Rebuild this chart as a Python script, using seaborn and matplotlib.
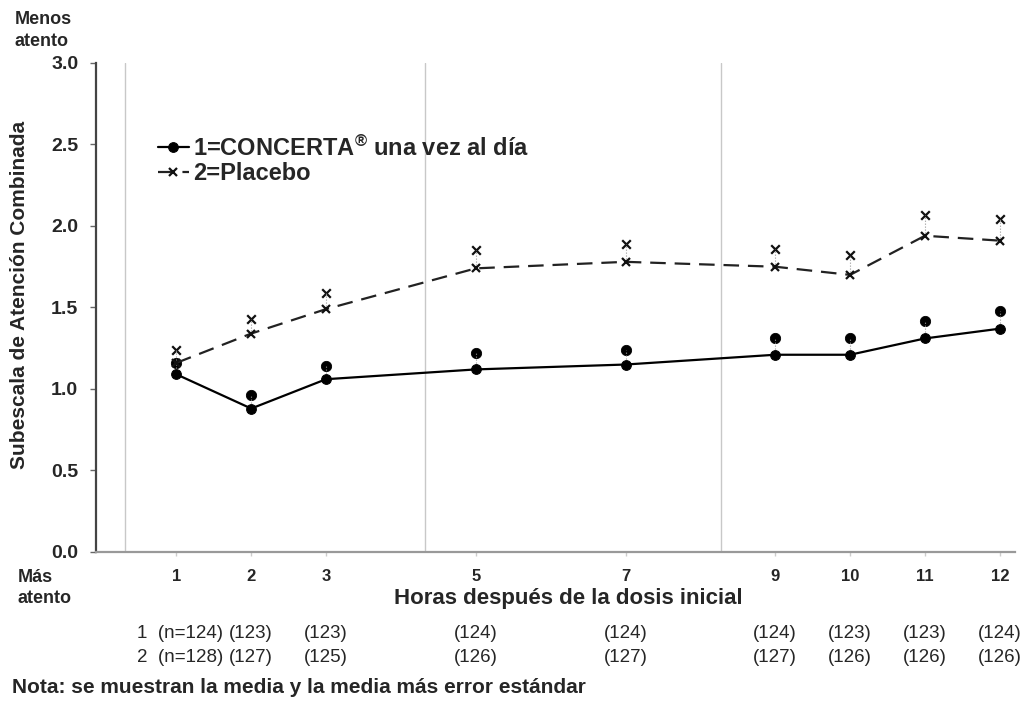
import matplotlib
matplotlib.use('Agg')
import matplotlib.pyplot as plt
import matplotlib.transforms as mtransforms
import seaborn as sns
import pandas as pd
import numpy as np

# hours after initial dose
hours = [1, 2, 3, 5, 7, 9, 10, 11, 12]

concerta_mean = [1.09, 0.88, 1.06, 1.12, 1.15, 1.21, 1.21, 1.31, 1.37]
concerta_se_top = [1.16, 0.96, 1.14, 1.22, 1.24, 1.31, 1.31, 1.42, 1.48]
placebo_mean = [1.16, 1.34, 1.49, 1.74, 1.78, 1.75, 1.70, 1.94, 1.91]
placebo_se_top = [1.24, 1.43, 1.59, 1.85, 1.89, 1.86, 1.82, 2.07, 2.04]

n_concerta = ['1  (n=124)', '(123)', '(123)', '(124)', '(124)', '(124)', '(123)', '(123)', '(124)']
n_placebo = ['2  (n=128)', '(127)', '(125)', '(126)', '(127)', '(127)', '(126)', '(126)', '(126)']

y_ticks = [0.0, 0.5, 1.0, 1.5, 2.0, 2.5, 3.0]
separators = [0.32, 4.32, 8.28]
labels = ['1=CONCERTA$^{®}$ una vez al día', '2=Placebo']

sns.set_style('white')
plt.rcParams['font.family'] = ['Liberation Sans', 'DejaVu Sans']
plt.rcParams['mathtext.default'] = 'regular'

fig = plt.figure(figsize=(10.24, 7.02), dpi=100)
ax = fig.add_axes([0.094, 0.2137, 0.897, 0.6966])

for s in separators:
    ax.axvline(s, color='#c8c8c8', lw=1, zorder=0)

# error bars (mean to mean + SE)
ax.vlines(hours, concerta_mean, concerta_se_top, colors='#999999', linestyles=':', lw=0.8)
ax.vlines(hours, placebo_mean, placebo_se_top, colors='#999999', linestyles=':', lw=0.8)

sns.lineplot(x=hours, y=concerta_mean, color='black', lw=1.6, marker='o', markersize=7,
             markeredgecolor='black', label=labels[0], errorbar=None, ax=ax)
sns.lineplot(x=hours, y=placebo_mean, color='#222222', lw=1.6, marker='x', markersize=6,
             markeredgewidth=1.6, markeredgecolor='#111111', linestyle=(0, (7, 4)),
             label=labels[1], errorbar=None, ax=ax)

sns.scatterplot(x=hours, y=concerta_se_top, marker='o', color='black', edgecolor='black',
                s=55, legend=False, ax=ax)
sns.scatterplot(x=hours, y=placebo_se_top, marker='x', color='#111111', s=38,
                linewidth=1.6, legend=False, ax=ax)

ax.set_xlim(-0.07, 12.2)
ax.set_ylim(0, 3.0)
ax.set_yticks(y_ticks)
ax.set_yticklabels([f'{v:.1f}' for v in y_ticks])
ax.set_xticks(hours)
ax.set_xticklabels([str(h) for h in hours])
ax.tick_params(axis='y', length=4, width=1, color='#666666', direction='out', labelsize=14, pad=9, left=True)
ax.tick_params(axis='x', length=3, width=1, color='#cccccc', direction='out', labelsize=12, pad=9, bottom=True)
for lbl in ax.get_xticklabels() + ax.get_yticklabels():
    lbl.set_fontweight('bold')

sns.despine(ax=ax, top=True, right=True)
ax.spines['left'].set_color('#444444')
ax.spines['left'].set_linewidth(1.6)
ax.spines['bottom'].set_color('#999999')
ax.spines['bottom'].set_linewidth(1.6)

ax.set_ylabel('Subescala de Atención Combinada', fontsize=15, fontweight='bold')
ax.yaxis.set_label_coords(-0.073, 0.526)
ax.set_xlabel('')

leg = ax.legend(loc='upper left', bbox_to_anchor=(0.057, 0.871), frameon=False,
                prop={'weight': 'bold', 'size': 17}, handlelength=1.3, handletextpad=0.2,
                labelspacing=0.05, borderaxespad=0)

fig.text(0.555, 0.148, 'Horas después de la dosis inicial', ha='center', va='center',
         fontsize=16, fontweight='bold')

trans = mtransforms.blended_transform_factory(ax.transData, fig.transFigure)
for i, h in enumerate(hours):
    if i == 0:
        ax.text(h - 0.52, 0.098, n_concerta[i], transform=trans, ha='left', va='center', fontsize=13.5)
        ax.text(h - 0.52, 0.064, n_placebo[i], transform=trans, ha='left', va='center', fontsize=13.5)
    else:
        ax.text(h, 0.098, n_concerta[i], transform=trans, ha='center', va='center', fontsize=13.5)
        ax.text(h, 0.064, n_placebo[i], transform=trans, ha='center', va='center', fontsize=13.5)

fig.text(0.014, 0.984, 'Menos\natento', ha='left', va='top', fontsize=13, fontweight='bold',
         linespacing=1.35)
fig.text(0.017, 0.190, 'Más\natento', ha='left', va='top', fontsize=13, fontweight='bold',
         linespacing=1.35)
fig.text(0.012, 0.02, 'Nota: se muestran la media y la media más error estándar', ha='left',
         va='center', fontsize=15, fontweight='bold')

fig.savefig('out.png', dpi=100)
